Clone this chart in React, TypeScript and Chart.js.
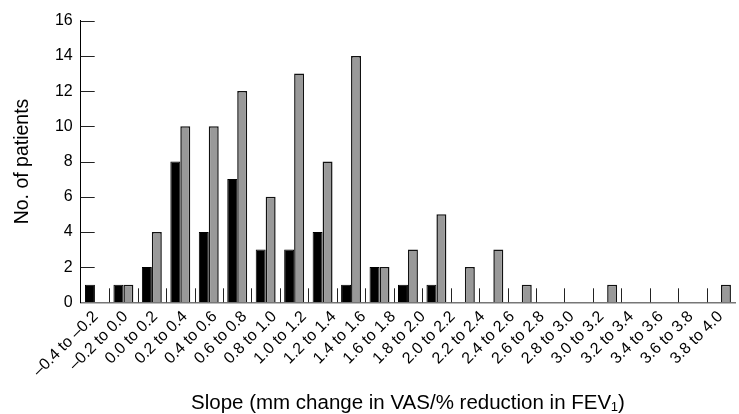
import React, { useEffect, useRef } from "react";
import { Chart, registerables } from "chart.js";

Chart.register(...registerables);

// Tick labels shown under the axis (22 bins as printed)
const categories = [
  "–0.4 to –0.2", "–0.2 to 0.0", "0.0 to 0.2", "0.2 to 0.4", "0.4 to 0.6",
  "0.6 to 0.8", "0.8 to 1.0", "1.0 to 1.2", "1.2 to 1.4", "1.4 to 1.6",
  "1.6 to 1.8", "1.8 to 2.0", "2.0 to 2.2", "2.2 to 2.4", "2.4 to 2.6",
  "2.6 to 2.8", "2.8 to 3.0", "3.0 to 3.2", "3.2 to 3.4", "3.4 to 3.6",
  "3.6 to 3.8", "3.8 to 4.0",
];

// Bar slots as drawn in the figure (23 slots)
const blackValues = [1, 1, 2, 8, 4, 7, 3, 3, 4, 1, 2, 1, 1, 0, 0, 0, 0, 0, 0, 0, 0, 0, 0];
const greyValues = [0, 1, 4, 10, 10, 12, 6, 13, 8, 14, 2, 3, 5, 2, 3, 1, 0, 0, 1, 0, 0, 0, 1];

const yTicks = { min: 0, max: 16, step: 2 };

const yTitle = "No. of patients";
const xTitle = "Slope (mm change in VAS/% reduction in FEV₁)";

const FONT = "'Liberation Sans', Arial, Helvetica, sans-serif";

const innerTicks = {
  id: "innerTicks",
  afterDatasetsDraw(chart: any) {
    const { ctx, chartArea, scales } = chart;
    const x = scales.x;
    const y = scales.y;
    const len = 14;
    ctx.save();
    ctx.lineWidth = 1;
    ctx.strokeStyle = "#222";
    y.ticks.forEach((t: any) => {
      if (t.value === 0) return;
      const py = Math.round(y.getPixelForValue(t.value)) + 0.5;
      ctx.beginPath();
      ctx.moveTo(chartArea.left, py);
      ctx.lineTo(chartArea.left + len, py);
      ctx.stroke();
    });
    const n = x.getLabels().length;
    for (let i = 1; i < n; i++) {
      const px = Math.round((x.getPixelForValue(i - 1) + x.getPixelForValue(i)) / 2) + 0.5;
      ctx.beginPath();
      ctx.moveTo(px, chartArea.bottom);
      ctx.lineTo(px, chartArea.bottom - len);
      ctx.stroke();
    }
    ctx.restore();
  },
};

export default function App() {
  const canvasRef = useRef<HTMLCanvasElement | null>(null);

  useEffect(() => {
    if (!canvasRef.current) return;
    const slotLabels = blackValues.map((_, i) => String(i));
    const chart = new Chart(canvasRef.current, {
      type: "bar",
      data: {
        labels: slotLabels,
        datasets: [
          {
            data: blackValues,
            backgroundColor: "#000000",
            borderColor: "#000000",
            borderWidth: 1,
            categoryPercentage: 0.7,
            barPercentage: 1.0,
            xAxisID: "x",
          },
          {
            data: greyValues,
            backgroundColor: "#999999",
            borderColor: "#111111",
            borderWidth: 1.5,
            categoryPercentage: 0.7,
            barPercentage: 1.0,
            xAxisID: "x",
          },
        ],
      },
      options: {
        animation: false,
        responsive: true,
        maintainAspectRatio: false,
        layout: { padding: { top: 20.7, left: 0, right: 0, bottom: 0 } },
        plugins: { legend: { display: false }, tooltip: { enabled: false } },
        scales: {
          x: {
            type: "category",
            position: "bottom",
            weight: 0,
            offset: true,
            grid: { display: false, drawTicks: false },
            border: { display: true, color: "#777777", width: 1.5 },
            ticks: { display: false },
            afterFit: (s: any) => {
              s.height = 0;
            },
          },
          x2: {
            type: "category",
            position: "bottom",
            weight: 1,
            labels: categories,
            offset: true,
            grid: { display: false, drawTicks: false },
            border: { display: false },
            ticks: {
              autoSkip: false,
              minRotation: 45,
              maxRotation: 45,
              padding: 5,
              color: "#000",
              font: { family: FONT, size: 16 },
            },
            title: {
              display: true,
              text: xTitle,
              color: "#000",
              font: { family: FONT, size: 20.5, lineHeight: 1 },
              padding: { top: 0, bottom: 0 },
            },
            afterFit: (s: any) => {
              s.height = 414 - 302.3;
            },
          },
          y: {
            min: yTicks.min,
            max: yTicks.max,
            grid: { display: false, drawTicks: false },
            border: { display: true, color: "#000", width: 1 },
            ticks: {
              stepSize: yTicks.step,
              padding: 8,
              color: "#000",
              font: { family: FONT, size: 16 },
            },
            title: {
              display: true,
              text: yTitle,
              color: "#000",
              font: { family: FONT, size: 19.5, lineHeight: 1 },
              padding: { top: 13, bottom: 0 },
            },
            afterFit: (s: any) => {
              s.width = 80.7;
            },
          },
        },
      },
      plugins: [innerTicks],
    });
    return () => chart.destroy();
  }, []);

  return (
    <div style={{ position: "fixed", left: 0, top: 0, width: 739, height: 414, background: "#fff" }}>
      <canvas ref={canvasRef} />
    </div>
  );
}
